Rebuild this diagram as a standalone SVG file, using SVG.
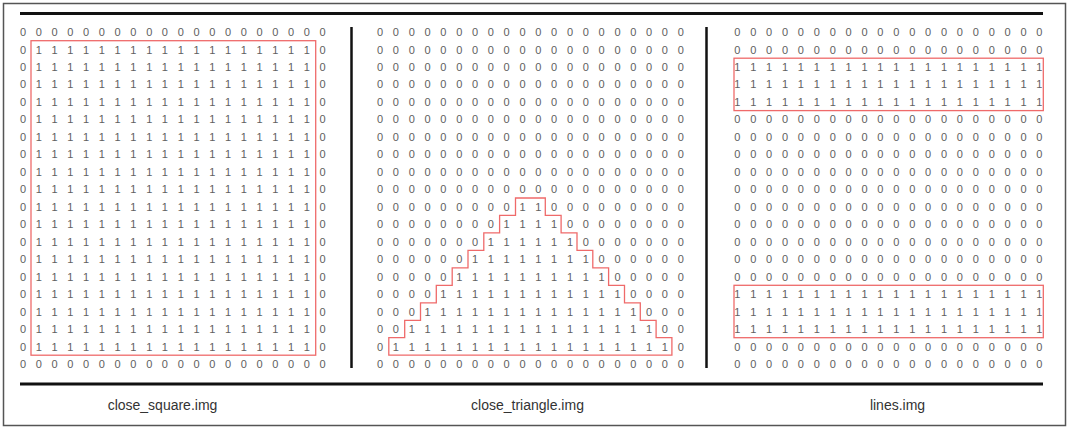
<svg xmlns="http://www.w3.org/2000/svg" width="1070" height="427" viewBox="0 0 1070 427">
<style>
.d{font-family:"Liberation Sans",Arial,sans-serif;font-size:11px;fill:#606060;text-anchor:middle}
.lbl{font-family:"Liberation Sans",Arial,sans-serif;font-size:14px;fill:#333;text-anchor:middle}
.hl{fill:none;stroke:#ef6a6a;stroke-width:1.3}
.rule{stroke:#111;stroke-width:3;fill:none}
.sep{stroke:#111;stroke-width:2.5;fill:none}
</style>
<rect x="0" y="0" width="1070" height="427" fill="#fff"/>
<rect x="3.5" y="3.5" width="1062" height="422" fill="none" stroke="#555" stroke-width="1.5"/>
<g id="frame">
<line class="rule" x1="20" y1="13.5" x2="1043" y2="13.5"/>
<line class="rule" x1="20" y1="384" x2="1043" y2="384"/>
<line class="sep" x1="351.5" y1="27" x2="351.5" y2="368"/>
<line class="sep" x1="706.5" y1="27" x2="706.5" y2="368"/>
</g>
<g id="close_square">
<text class="d" x="23 38.8 54.5 70.3 86.1 101.9 117.6 133.4 149.2 164.9 180.7 196.5 212.2 228 243.8 259.6 275.3 291.1 306.9 322.6" y="36">00000000000000000000</text>
<text class="d" x="23 38.8 54.5 70.3 86.1 101.9 117.6 133.4 149.2 164.9 180.7 196.5 212.2 228 243.8 259.6 275.3 291.1 306.9 322.6" y="53.5">01111111111111111110</text>
<text class="d" x="23 38.8 54.5 70.3 86.1 101.9 117.6 133.4 149.2 164.9 180.7 196.5 212.2 228 243.8 259.6 275.3 291.1 306.9 322.6" y="70.9">01111111111111111110</text>
<text class="d" x="23 38.8 54.5 70.3 86.1 101.9 117.6 133.4 149.2 164.9 180.7 196.5 212.2 228 243.8 259.6 275.3 291.1 306.9 322.6" y="88.4">01111111111111111110</text>
<text class="d" x="23 38.8 54.5 70.3 86.1 101.9 117.6 133.4 149.2 164.9 180.7 196.5 212.2 228 243.8 259.6 275.3 291.1 306.9 322.6" y="105.9">01111111111111111110</text>
<text class="d" x="23 38.8 54.5 70.3 86.1 101.9 117.6 133.4 149.2 164.9 180.7 196.5 212.2 228 243.8 259.6 275.3 291.1 306.9 322.6" y="123.4">01111111111111111110</text>
<text class="d" x="23 38.8 54.5 70.3 86.1 101.9 117.6 133.4 149.2 164.9 180.7 196.5 212.2 228 243.8 259.6 275.3 291.1 306.9 322.6" y="140.8">01111111111111111110</text>
<text class="d" x="23 38.8 54.5 70.3 86.1 101.9 117.6 133.4 149.2 164.9 180.7 196.5 212.2 228 243.8 259.6 275.3 291.1 306.9 322.6" y="158.3">01111111111111111110</text>
<text class="d" x="23 38.8 54.5 70.3 86.1 101.9 117.6 133.4 149.2 164.9 180.7 196.5 212.2 228 243.8 259.6 275.3 291.1 306.9 322.6" y="175.8">01111111111111111110</text>
<text class="d" x="23 38.8 54.5 70.3 86.1 101.9 117.6 133.4 149.2 164.9 180.7 196.5 212.2 228 243.8 259.6 275.3 291.1 306.9 322.6" y="193.2">01111111111111111110</text>
<text class="d" x="23 38.8 54.5 70.3 86.1 101.9 117.6 133.4 149.2 164.9 180.7 196.5 212.2 228 243.8 259.6 275.3 291.1 306.9 322.6" y="210.7">01111111111111111110</text>
<text class="d" x="23 38.8 54.5 70.3 86.1 101.9 117.6 133.4 149.2 164.9 180.7 196.5 212.2 228 243.8 259.6 275.3 291.1 306.9 322.6" y="228.2">01111111111111111110</text>
<text class="d" x="23 38.8 54.5 70.3 86.1 101.9 117.6 133.4 149.2 164.9 180.7 196.5 212.2 228 243.8 259.6 275.3 291.1 306.9 322.6" y="245.6">01111111111111111110</text>
<text class="d" x="23 38.8 54.5 70.3 86.1 101.9 117.6 133.4 149.2 164.9 180.7 196.5 212.2 228 243.8 259.6 275.3 291.1 306.9 322.6" y="263.1">01111111111111111110</text>
<text class="d" x="23 38.8 54.5 70.3 86.1 101.9 117.6 133.4 149.2 164.9 180.7 196.5 212.2 228 243.8 259.6 275.3 291.1 306.9 322.6" y="280.6">01111111111111111110</text>
<text class="d" x="23 38.8 54.5 70.3 86.1 101.9 117.6 133.4 149.2 164.9 180.7 196.5 212.2 228 243.8 259.6 275.3 291.1 306.9 322.6" y="298.1">01111111111111111110</text>
<text class="d" x="23 38.8 54.5 70.3 86.1 101.9 117.6 133.4 149.2 164.9 180.7 196.5 212.2 228 243.8 259.6 275.3 291.1 306.9 322.6" y="315.5">01111111111111111110</text>
<text class="d" x="23 38.8 54.5 70.3 86.1 101.9 117.6 133.4 149.2 164.9 180.7 196.5 212.2 228 243.8 259.6 275.3 291.1 306.9 322.6" y="333">01111111111111111110</text>
<text class="d" x="23 38.8 54.5 70.3 86.1 101.9 117.6 133.4 149.2 164.9 180.7 196.5 212.2 228 243.8 259.6 275.3 291.1 306.9 322.6" y="350.5">01111111111111111110</text>
<text class="d" x="23 38.8 54.5 70.3 86.1 101.9 117.6 133.4 149.2 164.9 180.7 196.5 212.2 228 243.8 259.6 275.3 291.1 306.9 322.6" y="367.9">00000000000000000000</text>
<rect class="hl" x="31" y="40.7" width="284.7" height="314.5"/>
<text class="lbl" x="162.5" y="410">close_square.img</text>
</g>
<g id="close_triangle">
<text class="d" x="380 395.8 411.7 427.5 443.3 459.2 475 490.8 506.6 522.5 538.3 554.1 570 585.8 601.6 617.5 633.3 649.1 664.9 680.8" y="36">00000000000000000000</text>
<text class="d" x="380 395.8 411.7 427.5 443.3 459.2 475 490.8 506.6 522.5 538.3 554.1 570 585.8 601.6 617.5 633.3 649.1 664.9 680.8" y="53.5">00000000000000000000</text>
<text class="d" x="380 395.8 411.7 427.5 443.3 459.2 475 490.8 506.6 522.5 538.3 554.1 570 585.8 601.6 617.5 633.3 649.1 664.9 680.8" y="70.9">00000000000000000000</text>
<text class="d" x="380 395.8 411.7 427.5 443.3 459.2 475 490.8 506.6 522.5 538.3 554.1 570 585.8 601.6 617.5 633.3 649.1 664.9 680.8" y="88.4">00000000000000000000</text>
<text class="d" x="380 395.8 411.7 427.5 443.3 459.2 475 490.8 506.6 522.5 538.3 554.1 570 585.8 601.6 617.5 633.3 649.1 664.9 680.8" y="105.9">00000000000000000000</text>
<text class="d" x="380 395.8 411.7 427.5 443.3 459.2 475 490.8 506.6 522.5 538.3 554.1 570 585.8 601.6 617.5 633.3 649.1 664.9 680.8" y="123.4">00000000000000000000</text>
<text class="d" x="380 395.8 411.7 427.5 443.3 459.2 475 490.8 506.6 522.5 538.3 554.1 570 585.8 601.6 617.5 633.3 649.1 664.9 680.8" y="140.8">00000000000000000000</text>
<text class="d" x="380 395.8 411.7 427.5 443.3 459.2 475 490.8 506.6 522.5 538.3 554.1 570 585.8 601.6 617.5 633.3 649.1 664.9 680.8" y="158.3">00000000000000000000</text>
<text class="d" x="380 395.8 411.7 427.5 443.3 459.2 475 490.8 506.6 522.5 538.3 554.1 570 585.8 601.6 617.5 633.3 649.1 664.9 680.8" y="175.8">00000000000000000000</text>
<text class="d" x="380 395.8 411.7 427.5 443.3 459.2 475 490.8 506.6 522.5 538.3 554.1 570 585.8 601.6 617.5 633.3 649.1 664.9 680.8" y="193.2">00000000000000000000</text>
<text class="d" x="380 395.8 411.7 427.5 443.3 459.2 475 490.8 506.6 522.5 538.3 554.1 570 585.8 601.6 617.5 633.3 649.1 664.9 680.8" y="210.7">00000000011000000000</text>
<text class="d" x="380 395.8 411.7 427.5 443.3 459.2 475 490.8 506.6 522.5 538.3 554.1 570 585.8 601.6 617.5 633.3 649.1 664.9 680.8" y="228.2">00000000111100000000</text>
<text class="d" x="380 395.8 411.7 427.5 443.3 459.2 475 490.8 506.6 522.5 538.3 554.1 570 585.8 601.6 617.5 633.3 649.1 664.9 680.8" y="245.6">00000001111110000000</text>
<text class="d" x="380 395.8 411.7 427.5 443.3 459.2 475 490.8 506.6 522.5 538.3 554.1 570 585.8 601.6 617.5 633.3 649.1 664.9 680.8" y="263.1">00000011111111000000</text>
<text class="d" x="380 395.8 411.7 427.5 443.3 459.2 475 490.8 506.6 522.5 538.3 554.1 570 585.8 601.6 617.5 633.3 649.1 664.9 680.8" y="280.6">00000111111111100000</text>
<text class="d" x="380 395.8 411.7 427.5 443.3 459.2 475 490.8 506.6 522.5 538.3 554.1 570 585.8 601.6 617.5 633.3 649.1 664.9 680.8" y="298.1">00001111111111110000</text>
<text class="d" x="380 395.8 411.7 427.5 443.3 459.2 475 490.8 506.6 522.5 538.3 554.1 570 585.8 601.6 617.5 633.3 649.1 664.9 680.8" y="315.5">00011111111111111000</text>
<text class="d" x="380 395.8 411.7 427.5 443.3 459.2 475 490.8 506.6 522.5 538.3 554.1 570 585.8 601.6 617.5 633.3 649.1 664.9 680.8" y="333">00111111111111111100</text>
<text class="d" x="380 395.8 411.7 427.5 443.3 459.2 475 490.8 506.6 522.5 538.3 554.1 570 585.8 601.6 617.5 633.3 649.1 664.9 680.8" y="350.5">01111111111111111110</text>
<text class="d" x="380 395.8 411.7 427.5 443.3 459.2 475 490.8 506.6 522.5 538.3 554.1 570 585.8 601.6 617.5 633.3 649.1 664.9 680.8" y="367.9">00000000000000000000</text>
<path class="hl" d="M515.5,198 H545.3 V215.4 H561.1 V232.9 H577 V250.4 H592.8 V267.9 H608.6 V285.3 H624.5 V302.8 H640.3 V320.3 H656.1 V337.7 H671.9 V355.2 H388.8 V337.7 H404.7 V320.3 H420.5 V302.8 H436.3 V285.3 H452.2 V267.9 H468 V250.4 H483.8 V232.9 H499.6 V215.4 H515.5 Z"/>
<text class="lbl" x="527.5" y="410">close_triangle.img</text>
</g>
<g id="lines">
<text class="d" x="737.3 753.2 769.1 785 800.9 816.8 832.7 848.6 864.5 880.4 896.3 912.2 928.1 944 959.9 975.8 991.7 1007.6 1023.5 1039.4" y="36">00000000000000000000</text>
<text class="d" x="737.3 753.2 769.1 785 800.9 816.8 832.7 848.6 864.5 880.4 896.3 912.2 928.1 944 959.9 975.8 991.7 1007.6 1023.5 1039.4" y="53.5">00000000000000000000</text>
<text class="d" x="737.3 753.2 769.1 785 800.9 816.8 832.7 848.6 864.5 880.4 896.3 912.2 928.1 944 959.9 975.8 991.7 1007.6 1023.5 1039.4" y="70.9">11111111111111111111</text>
<text class="d" x="737.3 753.2 769.1 785 800.9 816.8 832.7 848.6 864.5 880.4 896.3 912.2 928.1 944 959.9 975.8 991.7 1007.6 1023.5 1039.4" y="88.4">11111111111111111111</text>
<text class="d" x="737.3 753.2 769.1 785 800.9 816.8 832.7 848.6 864.5 880.4 896.3 912.2 928.1 944 959.9 975.8 991.7 1007.6 1023.5 1039.4" y="105.9">11111111111111111111</text>
<text class="d" x="737.3 753.2 769.1 785 800.9 816.8 832.7 848.6 864.5 880.4 896.3 912.2 928.1 944 959.9 975.8 991.7 1007.6 1023.5 1039.4" y="123.4">00000000000000000000</text>
<text class="d" x="737.3 753.2 769.1 785 800.9 816.8 832.7 848.6 864.5 880.4 896.3 912.2 928.1 944 959.9 975.8 991.7 1007.6 1023.5 1039.4" y="140.8">00000000000000000000</text>
<text class="d" x="737.3 753.2 769.1 785 800.9 816.8 832.7 848.6 864.5 880.4 896.3 912.2 928.1 944 959.9 975.8 991.7 1007.6 1023.5 1039.4" y="158.3">00000000000000000000</text>
<text class="d" x="737.3 753.2 769.1 785 800.9 816.8 832.7 848.6 864.5 880.4 896.3 912.2 928.1 944 959.9 975.8 991.7 1007.6 1023.5 1039.4" y="175.8">00000000000000000000</text>
<text class="d" x="737.3 753.2 769.1 785 800.9 816.8 832.7 848.6 864.5 880.4 896.3 912.2 928.1 944 959.9 975.8 991.7 1007.6 1023.5 1039.4" y="193.2">00000000000000000000</text>
<text class="d" x="737.3 753.2 769.1 785 800.9 816.8 832.7 848.6 864.5 880.4 896.3 912.2 928.1 944 959.9 975.8 991.7 1007.6 1023.5 1039.4" y="210.7">00000000000000000000</text>
<text class="d" x="737.3 753.2 769.1 785 800.9 816.8 832.7 848.6 864.5 880.4 896.3 912.2 928.1 944 959.9 975.8 991.7 1007.6 1023.5 1039.4" y="228.2">00000000000000000000</text>
<text class="d" x="737.3 753.2 769.1 785 800.9 816.8 832.7 848.6 864.5 880.4 896.3 912.2 928.1 944 959.9 975.8 991.7 1007.6 1023.5 1039.4" y="245.6">00000000000000000000</text>
<text class="d" x="737.3 753.2 769.1 785 800.9 816.8 832.7 848.6 864.5 880.4 896.3 912.2 928.1 944 959.9 975.8 991.7 1007.6 1023.5 1039.4" y="263.1">00000000000000000000</text>
<text class="d" x="737.3 753.2 769.1 785 800.9 816.8 832.7 848.6 864.5 880.4 896.3 912.2 928.1 944 959.9 975.8 991.7 1007.6 1023.5 1039.4" y="280.6">00000000000000000000</text>
<text class="d" x="737.3 753.2 769.1 785 800.9 816.8 832.7 848.6 864.5 880.4 896.3 912.2 928.1 944 959.9 975.8 991.7 1007.6 1023.5 1039.4" y="298.1">11111111111111111111</text>
<text class="d" x="737.3 753.2 769.1 785 800.9 816.8 832.7 848.6 864.5 880.4 896.3 912.2 928.1 944 959.9 975.8 991.7 1007.6 1023.5 1039.4" y="315.5">11111111111111111111</text>
<text class="d" x="737.3 753.2 769.1 785 800.9 816.8 832.7 848.6 864.5 880.4 896.3 912.2 928.1 944 959.9 975.8 991.7 1007.6 1023.5 1039.4" y="333">11111111111111111111</text>
<text class="d" x="737.3 753.2 769.1 785 800.9 816.8 832.7 848.6 864.5 880.4 896.3 912.2 928.1 944 959.9 975.8 991.7 1007.6 1023.5 1039.4" y="350.5">00000000000000000000</text>
<text class="d" x="737.3 753.2 769.1 785 800.9 816.8 832.7 848.6 864.5 880.4 896.3 912.2 928.1 944 959.9 975.8 991.7 1007.6 1023.5 1039.4" y="367.9">00000000000000000000</text>
<rect class="hl" x="734" y="58.2" width="309.3" height="52.4"/>
<rect class="hl" x="734" y="285.3" width="309.3" height="52.4"/>
<text class="lbl" x="897.5" y="410">lines.img</text>
</g>
<g id="connectors"/>
</svg>
